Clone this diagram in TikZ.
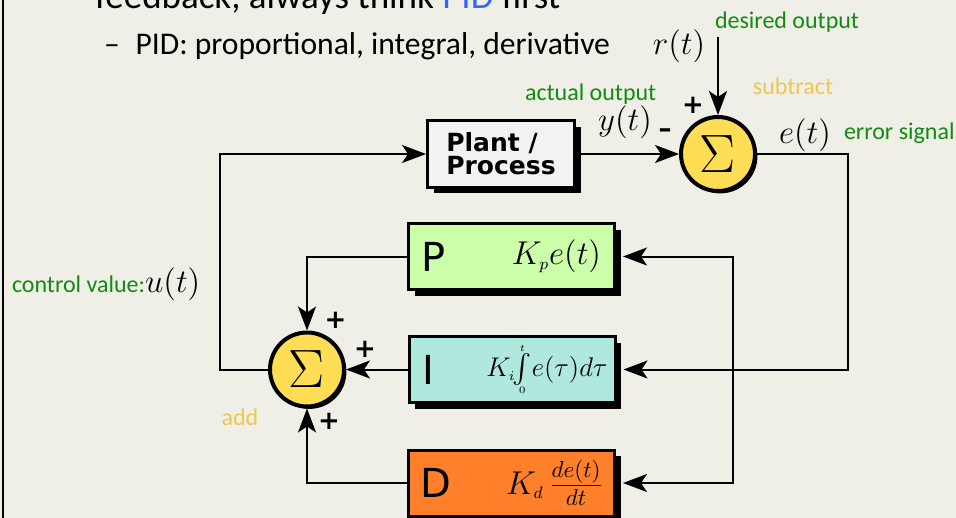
\RequirePackage{fix-cm}
\documentclass[tikz,border=0pt]{standalone}
\usepackage{exscale}
\usepackage[no-math]{fontspec}
\setmainfont{Carlito}
\newfontfamily\vera{DejaVu Sans}
\usetikzlibrary{arrows.meta,shadows}
\definecolor{slide}{RGB}{239,239,232}
\definecolor{sumyellow}{RGB}{255,221,85}
\definecolor{pgreen}{RGB}{204,255,170}
\definecolor{iteal}{RGB}{175,233,221}
\definecolor{dorange}{RGB}{255,127,42}
\definecolor{plantgray}{RGB}{242,242,242}
\definecolor{notegreen}{RGB}{16,140,16}
\definecolor{noteyellow}{RGB}{236,200,82}
\definecolor{pidblue}{RGB}{51,102,255}
\begin{document}
\begin{tikzpicture}[x=0.5pt, y=-0.5pt, >={Stealth[length=12pt,width=9pt,inset=3pt]}, line width=1pt]
\useasboundingbox (0,0) rectangle (956,518);
\clip (0,0) rectangle (956,518);
\fill[slide] (0,0) rectangle (956,518);
\draw[line width=1.2pt] (3,0) -- (3,518);
\tikzstyle{block} = [draw, line width=1.5pt, minimum width=103pt, minimum height=33pt, inner sep=0pt, drop shadow={shadow xshift=3pt, shadow yshift=-3pt, opacity=1, fill=black}]
\tikzstyle{sum} = [circle, draw, line width=2pt, fill=sumyellow, minimum size=37pt, inner sep=0pt, font=\fontsize{27}{27}\selectfont, drop shadow={shadow xshift=1.2pt, shadow yshift=-1.2pt, opacity=1, fill=black}]
\tikzstyle{note} = [text=notegreen, font=\fontsize{12}{14}\selectfont, inner sep=0pt]
\tikzstyle{op} = [text=noteyellow, font=\fontsize{12}{14}\selectfont, inner sep=0pt]
\tikzstyle{sig} = [font=\fontsize{16.5}{18}\selectfont, inner sep=0pt]
\tikzstyle{sign} = [font=\vera\bfseries\fontsize{13}{13}\selectfont, inner sep=0pt]
\tikzstyle{letter} = [font=\vera\fontsize{20}{20}\selectfont, inner sep=0pt]
% slide text
\node[anchor=base west, inner sep=0pt, font=\fontsize{18.5}{20}\selectfont] (title) at (94,9) {feedback, always think \textcolor{pidblue}{PID} first};
\node[anchor=base west, inner sep=0pt, font=\fontsize{15.8}{18}\selectfont] (bullet) at (103,55) {–\hspace{0.5em}PID: proportional, integral, derivative};
% blocks
\node[block, fill=plantgray, minimum width=73.5pt, align=left, font=\vera\bfseries\fontsize{12.5}{11.5}\selectfont] (plant) at (501,154) {Plant /\\Process};
\node[sum] (s1) at (718,154) {$\Sigma$};
\node[block, fill=pgreen] (p) at (511.5,256.5) {};
\node[block, fill=iteal] (i) at (512,369.5) {};
\node[block, fill=dorange] (d) at (511.5,483) {};
\node[sum] (s2) at (307,369.5) {$\Sigma$};
\node[letter, anchor=west] (pl) at ([xshift=6.5pt]p.west) {P};
\node[letter, anchor=west] (il) at ([xshift=7pt]i.west) {I};
\node[letter, anchor=west] (dl) at ([xshift=6pt]d.west) {D};
\node[sig, anchor=east] (pf) at ([xshift=-7pt]p.east) {$K_{\scriptscriptstyle p}e(t)$};
\node[sig, anchor=east, font=\fontsize{13.5}{15}\selectfont] (if) at ([xshift=-4pt]i.east) {$K_{\scriptscriptstyle i}\mkern-2mu\vcenter{\offinterlineskip\halign{\hfil#\hfil\cr\fontsize{5}{5}\selectfont$t$\cr\noalign{\kern1pt}\fontsize{15}{15}\selectfont$\int$\cr\noalign{\kern1pt}\fontsize{5}{5}\selectfont$0$\cr}}e(\tau)d\tau$};
\node[sig, anchor=east] (df) at ([xshift=-6pt]d.east) {$K_{\scriptscriptstyle d}\,\frac{de(t)}{dt}$};
% signals
\coordinate (rin) at (718,37);
\coordinate (split) at (733,369.5);
\draw[->] (rin) -- (s1);
\draw[->] (plant) -- (s1);
\draw[->, shorten >=3.5pt] (s1.east) -- ++(91,0) |- (i.east);
\draw[->, shorten >=3.5pt] (split) |- (p.east);
\draw[->, shorten >=3.5pt] (split) |- (d.east);
\draw[->] (p.west) -| (s2.north);
\draw[->] (i.west) -- (s2.east);
\draw[->] (d.west) -| (s2.south);
\draw[->] (s2.west) -- ++(-48,0) |- (plant.west);
% labels
\node[sig] (rt) at (679,46) {$r(t)$};
\node[note, anchor=west] (desired) at (714,22) {desired output};
\node[sign] (plus1) at (693,105) {+};
\node[sign] (minus1) at (665,133) {–};
\node[note, anchor=west] (actual) at (524,94) {actual output};
\node[sig] (yt) at (625,122) {$y(t)$};
\node[op] (subtract) at (793,86) {subtract};
\node[sig] (et) at (805,135) {$e(t)$};
\node[note, anchor=west] (error) at (843,133) {error signal};
\node[note, anchor=base west] (control) at (11,292) {control value:{\color{black}\fontsize{16.5}{18}\selectfont$u(t)$}};
\node[op] (add) at (240,417) {add};
\node[sign] (plus2) at (335.5,320) {+};
\node[sign] (plus3) at (365,349) {+};
\node[sign] (plus4) at (329,421) {+};
\end{tikzpicture}
\end{document}
